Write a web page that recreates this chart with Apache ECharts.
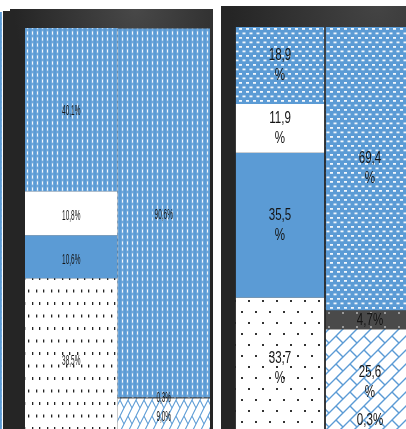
<!DOCTYPE html>
<html>
<head>
<meta charset="utf-8">
<script src="https://cdn.jsdelivr.net/npm/echarts@6/dist/echarts.min.js"></script>
<style>
  html, body { margin: 0; padding: 0; background: #ffffff; }
  #chart { width: 406px; height: 429px; }
</style>
</head>
<body>
<div id="chart"></div>
<script>
const categories = ['A', 'B'];

// Left panel: percentage shares per stack layer, listed bottom to top
const leftBase    = [0, 0];
const leftHatch   = [0, 9.0];
const leftDots    = [38.5, 0];
const leftDark    = [0, 0.3];
const leftSolid   = [10.6, 0];
const leftWhite   = [10.8, 0];
const leftPattern = [40.1, 90.6];

// Right panel: percentage shares per stack layer, listed bottom to top
const rightBase    = [0, 0.3];
const rightHatch   = [0, 25.6];
const rightDots    = [33.7, 0];
const rightDark    = [0, 4.7];
const rightSolid   = [35.5, 0];
const rightWhite   = [11.9, 0];
const rightPattern = [18.9, 69.4];

const BLUE = '#5b9bd5';

// Small repeating fill tiles
function tile(w, h, bg, draw) {
  const c = document.createElement('canvas');
  c.width = w; c.height = h;
  const g = c.getContext('2d');
  if (bg) { g.fillStyle = bg; g.fillRect(0, 0, w, h); }
  draw(g, w, h);
  return { image: c, repeat: 'repeat' };
}

// blue with narrow white dashes (left panel)
const blueDashL = tile(5, 6, BLUE, g => {
  g.fillStyle = 'rgba(255,255,255,0.3)';
  g.fillRect(1.5, 0.5, 2, 5);
  g.fillStyle = 'rgba(255,255,255,0.9)';
  g.fillRect(2, 1.5, 1, 3);
});
// blue with staggered white dashes (right panel)
const blueDashR = tile(7, 9, BLUE, g => {
  g.fillStyle = 'rgba(255,255,255,0.92)';
  g.fillRect(1, 1, 3, 1.8);
  g.fillRect(4.5, 5.5, 3, 1.8);
  g.fillRect(-2.5, 5.5, 3, 1.8);
});
// white with small dark ticks (left panel)
const dotsL = tile(15, 25, '#ffffff', g => {
  g.fillStyle = '#222222';
  g.fillRect(2, 2, 1.3, 3);
  g.fillRect(9, 2, 1.3, 3);
  g.fillRect(6, 14.5, 1.3, 3);
  g.fillRect(13, 14.5, 1.3, 3);
});
// white with staggered dark dots (right panel)
const dotsR = tile(14, 22, '#ffffff', g => {
  g.fillStyle = '#333333';
  g.fillRect(3, 3, 2, 2);
  g.fillRect(10, 14, 2, 2);
});
// dark grey with light dots
const darkDots = tile(14, 14, '#4a4a4a', g => {
  g.fillStyle = '#9a9a9a';
  g.fillRect(6, 4, 2, 2);
});
// diagonal brick hatch
function brick(s, sx, lw) {
  const w = Math.round(s * sx);
  return tile(w, s, '#ffffff', g => {
    g.setTransform(sx, 0, 0, 1, 0, 0);
    g.strokeStyle = BLUE;
    g.lineWidth = lw;
    g.beginPath();
    for (let dx = -s; dx <= s; dx += s) {
      for (let dy = -s; dy <= s; dy += s) {
        g.moveTo(dx, dy + s); g.lineTo(dx + s, dy);
        g.moveTo(dx, dy); g.lineTo(dx + s / 2, dy + s / 2);
      }
    }
    g.stroke();
  });
}
const hatchL = brick(16, 0.5, 1.6);
const hatchR = brick(14, 1, 1.4);

const leftLayers = [
  { data: leftBase, fill: hatchL },
  { data: leftHatch, fill: hatchL },
  { data: leftDots, fill: dotsL, dy: 4 },
  { data: leftDark, fill: darkDots },
  { data: leftSolid, fill: BLUE, dy: 3 },
  { data: leftWhite, fill: '#ffffff', dy: 3 },
  { data: leftPattern, fill: blueDashL, dy: 2 }
];
const rightLayers = [
  { data: rightBase, fill: hatchR, dy: -14 },
  { data: rightHatch, fill: hatchR, dy: 1 },
  { data: rightDots, fill: dotsR, dy: 2 },
  { data: rightDark, fill: darkDots, dy: 1 },
  { data: rightSolid, fill: BLUE },
  { data: rightWhite, fill: '#ffffff' },
  { data: rightPattern, fill: blueDashR }
];

const pct = v => v.toFixed(1).replace('.', ',');

const series = [];
function addBars(layers, axis, stack, gap) {
  layers.forEach((l, k) => {
    series.push({
      type: 'bar', name: stack + k, stack: stack,
      xAxisIndex: axis, yAxisIndex: axis,
      barCategoryGap: gap,
      data: l.data,
      itemStyle: { color: l.fill }
    });
  });
}
addBars(leftLayers, 0, 'left', '0%');
addBars(rightLayers, 1, 'right', '2%');

// Value labels at the middle of each segment, drawn as condensed text
function addLabels(layers, axis, opts) {
  const pts = [];
  categories.forEach((c, i) => {
    let acc = 0;
    layers.forEach(l => {
      const v = l.data[i];
      if (v > 0) pts.push([i, acc + v / 2, v, l.dy || 0]);
      acc += v;
    });
  });
  series.push({
    type: 'custom', name: 'labels' + axis,
    xAxisIndex: axis, yAxisIndex: axis, z: 5, silent: true, clip: false,
    data: pts,
    renderItem: (params, api) => {
      const p = api.coord([api.value(0), api.value(1)]);
      const v = api.value(2);
      return {
        type: 'text', x: p[0], y: p[1] + api.value(3), scaleX: opts.scaleX,
        style: Object.assign({
          text: opts.format(v),
          fill: '#151515',
          font: opts.font,
          lineHeight: opts.lineHeight,
          align: 'center', verticalAlign: 'middle',
          textAlign: 'center', textVerticalAlign: 'middle'
        }, opts.extra || {})
      };
    }
  });
}
addLabels(leftLayers, 0, {
  scaleX: 0.46, font: '14px "Liberation Sans", Arial, sans-serif', lineHeight: 15,
  format: v => pct(v) + '%',
  extra: { shadowColor: 'rgba(0,0,0,0.45)', shadowBlur: 2 }
});
addLabels(rightLayers, 1, {
  scaleX: 0.68, font: '17px "Liberation Sans", Arial, sans-serif', lineHeight: 20,
  format: v => v < 10 ? pct(v) + '%' : pct(v) + '\n%'
});

const chart = echarts.init(document.getElementById('chart'), null, { renderer: 'canvas' });
chart.setOption({
  animation: false,
  backgroundColor: '#ffffff',
  graphic: [
    { type: 'rect', z: -10, shape: { x: 0, y: 12, width: 2, height: 417 }, style: { fill: blueDashL } },
    { type: 'rect', z: -10, shape: { x: 3, y: 11, width: 7, height: 418 }, style: { fill: '#262626' } },
    { type: 'rect', z: -10, shape: { x: 10, y: 9, width: 203, height: 420 },
      style: { fill: { type: 'radial', x: 0.62, y: 0, r: 0.6,
        colorStops: [{ offset: 0, color: '#484848' }, { offset: 1, color: '#252525' }] } } },
    { type: 'rect', z: -10, shape: { x: 221, y: 6, width: 185, height: 423 },
      style: { fill: { type: 'radial', x: 0.85, y: 0, r: 0.8,
        colorStops: [{ offset: 0, color: '#444444' }, { offset: 1, color: '#252525' }] } } }
  ],
  grid: [
    { left: 25, top: 28, width: 185, height: 407, outerBoundsMode: 'none', containLabel: false },
    { left: 235, top: 27, width: 180, height: 408, outerBoundsMode: 'none', containLabel: false }
  ],
  xAxis: [
    { type: 'category', gridIndex: 0, data: categories, show: false },
    { type: 'category', gridIndex: 1, data: categories, show: false }
  ],
  yAxis: [
    { type: 'value', gridIndex: 0, min: 0, max: 100, show: false },
    { type: 'value', gridIndex: 1, min: 0, max: 100, show: false }
  ],
  series: series
});
</script>
</body>
</html>
